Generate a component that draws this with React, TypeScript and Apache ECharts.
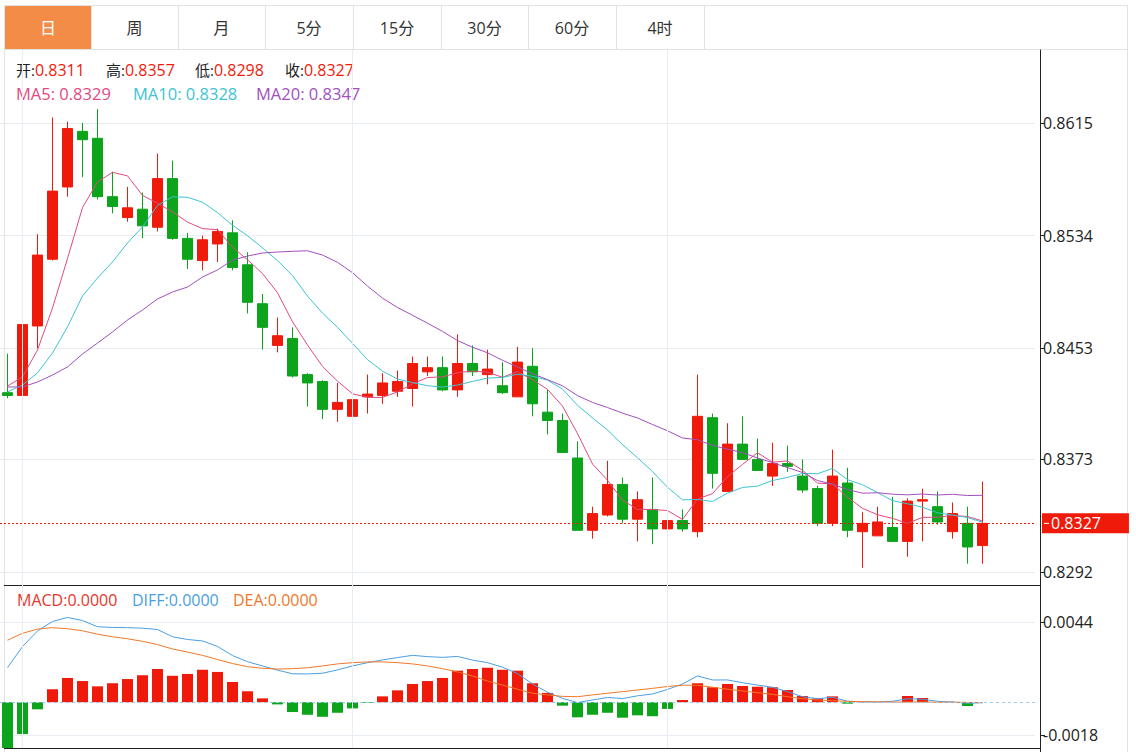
import React, { useEffect, useRef } from 'react';
import * as echarts from 'echarts';

// ---------- data ----------
const categories = Array.from({ length: 69 }, (_, i) => `D${i + 1}`);

const opens = [
  0.8421, 0.8419, 0.8469, 0.8517, 0.8569, 0.8609, 0.8604, 0.8562, 0.8547, 0.8553,
  0.8540, 0.8575, 0.8532, 0.8516, 0.8528, 0.8536, 0.8513, 0.8485, 0.8455, 0.8460,
  0.8434, 0.8429, 0.8409, 0.8404, 0.8418, 0.8419, 0.8422, 0.8424, 0.8436, 0.8439,
  0.8423, 0.8442, 0.8434, 0.8426, 0.8418, 0.8440, 0.8407, 0.8401, 0.8374, 0.8322,
  0.8333, 0.8355, 0.8330, 0.8337, 0.8323, 0.8329, 0.8321, 0.8403, 0.8350, 0.8384,
  0.8373, 0.8361, 0.8370, 0.8361, 0.8352, 0.8327, 0.8356, 0.8321, 0.8318, 0.8324,
  0.8314, 0.8343, 0.8339, 0.8321, 0.8327, 0.8311,
];
const closes = [
  0.8419, 0.8470, 0.8520, 0.8566, 0.8611, 0.8603, 0.8562, 0.8555, 0.8554, 0.8541,
  0.8575, 0.8532, 0.8517, 0.8531, 0.8537, 0.8511, 0.8486, 0.8468, 0.8462, 0.8433,
  0.8428, 0.8409, 0.8414, 0.8416, 0.8420, 0.8428, 0.8429, 0.8442, 0.8439, 0.8423,
  0.8442, 0.8436, 0.8438, 0.8421, 0.8443, 0.8413, 0.8401, 0.8378, 0.8322, 0.8334,
  0.8355, 0.8330, 0.8344, 0.8323, 0.8329, 0.8323, 0.8404, 0.8363, 0.8384, 0.8373,
  0.8365, 0.8370, 0.8368, 0.8351, 0.8327, 0.8361, 0.8322, 0.8327, 0.8328, 0.8314,
  0.8343, 0.8344, 0.8328, 0.8334, 0.8310, 0.8327,
];
const lows = [
  0.8417, 0.8414, 0.8453, 0.8516, 0.8562, 0.8576, 0.8560, 0.8550, 0.8544, 0.8532,
  0.8537, 0.8531, 0.8510, 0.8509, 0.8515, 0.8509, 0.8478, 0.8452, 0.8450, 0.8432,
  0.8411, 0.8402, 0.8400, 0.8404, 0.8406, 0.8413, 0.8418, 0.8411, 0.8433, 0.8422,
  0.8418, 0.8433, 0.8427, 0.8420, 0.8418, 0.8404, 0.8391, 0.8378, 0.8322, 0.8316,
  0.8332, 0.8327, 0.8314, 0.8312, 0.8310, 0.8321, 0.8317, 0.8352, 0.8350, 0.8373,
  0.8365, 0.8354, 0.8364, 0.8349, 0.8325, 0.8325, 0.8317, 0.8295, 0.8318, 0.8314,
  0.8303, 0.8314, 0.8326, 0.8316, 0.8298, 0.8298,
];
const highs = [
  0.8449, 0.8473, 0.8535, 0.8619, 0.8616, 0.8615, 0.8625, 0.8580, 0.8569, 0.8565,
  0.8593, 0.8588, 0.8536, 0.8534, 0.8539, 0.8545, 0.8522, 0.8492, 0.8475, 0.8468,
  0.8435, 0.8430, 0.8428, 0.8432, 0.8434, 0.8435, 0.8437, 0.8447, 0.8447, 0.8447,
  0.8463, 0.8455, 0.8452, 0.8443, 0.8454, 0.8453, 0.8423, 0.8406, 0.8386, 0.8339,
  0.8372, 0.8360, 0.8350, 0.8360, 0.8345, 0.8337, 0.8434, 0.8406, 0.8399, 0.8404,
  0.8388, 0.8385, 0.8383, 0.8373, 0.8354, 0.8380, 0.8367, 0.8335, 0.8339, 0.8346,
  0.8345, 0.8352, 0.8350, 0.8342, 0.8339, 0.8357,
];

const ma5 = [
  0.84258, 0.84323, 0.84517, 0.84819, 0.85175, 0.85542, 0.85726, 0.85795, 0.85770, 0.85629,
  0.85573, 0.85511, 0.85437, 0.85390, 0.85383, 0.85257, 0.85166, 0.85067, 0.84929, 0.84720,
  0.84553, 0.84399, 0.84293, 0.84202, 0.84176, 0.84176, 0.84216, 0.84273, 0.84319, 0.84324,
  0.84353, 0.84366, 0.84357, 0.84321, 0.84362, 0.84303, 0.84234, 0.84114, 0.83916, 0.83697,
  0.83580, 0.83438, 0.83369, 0.83370, 0.83362, 0.83298, 0.83445, 0.83484, 0.83606, 0.83694,
  0.83778, 0.83710, 0.83719, 0.83652, 0.83560, 0.83553, 0.83458, 0.83378, 0.83332, 0.83306,
  0.83270, 0.83313, 0.83314, 0.83327, 0.83319, 0.83287,
];
const ma10 = [
  0.84215, 0.84265, 0.84352, 0.84496, 0.84683, 0.84906, 0.85035, 0.85150, 0.85287, 0.85402,
  0.85557, 0.85619, 0.85616, 0.85580, 0.85506, 0.85415, 0.85339, 0.85252, 0.85160, 0.85052,
  0.84905, 0.84783, 0.84680, 0.84565, 0.84448, 0.84365, 0.84308, 0.84283, 0.84260, 0.84250,
  0.84265, 0.84291, 0.84315, 0.84320, 0.84343, 0.84328, 0.84300, 0.84236, 0.84119, 0.84029,
  0.83942, 0.83836, 0.83742, 0.83643, 0.83529, 0.83439, 0.83442, 0.83427, 0.83488, 0.83528,
  0.83538, 0.83578, 0.83601, 0.83629, 0.83627, 0.83665, 0.83584, 0.83548, 0.83492, 0.83433,
  0.83411, 0.83386, 0.83346, 0.83329, 0.83312, 0.83278,
];
const ma20 = [
  0.84251, 0.84251, 0.84287, 0.84337, 0.84395, 0.84488, 0.84567, 0.84647, 0.84733, 0.84805,
  0.84884, 0.84934, 0.84970, 0.85042, 0.85093, 0.85164, 0.85193, 0.85215, 0.85222, 0.85227,
  0.85231, 0.85200, 0.85148, 0.85073, 0.84977, 0.84890, 0.84823, 0.84767, 0.84710, 0.84651,
  0.84585, 0.84537, 0.84497, 0.84443, 0.84395, 0.84346, 0.84304, 0.84259, 0.84189, 0.84140,
  0.84103, 0.84063, 0.84028, 0.83981, 0.83936, 0.83884, 0.83871, 0.83831, 0.83803, 0.83779,
  0.83740, 0.83707, 0.83671, 0.83636, 0.83578, 0.83552, 0.83513, 0.83487, 0.83490, 0.83480,
  0.83475, 0.83481, 0.83474, 0.83479, 0.83470, 0.83472,
];

const macdHist = [
  -0.0027, -0.00175, -0.00039, 0.00071, 0.00133, 0.00116, 0.00087, 0.00104, 0.00127, 0.00148,
  0.00182, 0.00145, 0.00155, 0.00178, 0.00166, 0.00111, 0.0006, 0.00021, -0.00012, -0.00054,
  -0.00069, -0.0008, -0.00058, -0.00034, -0.00004, 0.00032, 0.00065, 0.001, 0.00116, 0.00133,
  0.00173, 0.00182, 0.00189, 0.00178, 0.00173, 0.00104, 0.00051, -0.00019, -0.00083, -0.00069,
  -0.00058, -0.00085, -0.00072, -0.00077, -0.00037, 0.00012, 0.00104, 0.00082, 0.001, 0.00089,
  0.00085, 0.00082, 0.00067, 0.00034, 0.00021, 0.00032, -0.00008, 0.00001, 0.00001, 0.00001,
  0.00034, 0.00023, 0.00001, 0.00001, -0.00021, 0,
];
const diffLine = [
  0.0019, 0.00305, 0.00391, 0.00443, 0.00465, 0.00448, 0.00414, 0.0041, 0.00409, 0.00406,
  0.00399, 0.00359, 0.00344, 0.00336, 0.00306, 0.00256, 0.00222, 0.00199, 0.00176, 0.00156,
  0.00155, 0.00159, 0.00177, 0.00199, 0.00217, 0.00232, 0.00245, 0.00257, 0.0025, 0.00246,
  0.00251, 0.00231, 0.00217, 0.00192, 0.00157, 0.001, 0.00055, 0.00021, -0.00002, 0.00012,
  0.00026, 0.0002, 0.00035, 0.00045, 0.0007, 0.001, 0.00144, 0.00122, 0.00122, 0.00107,
  0.00094, 0.00082, 0.00058, 0.0003, 0.00019, 0.00027, 0.00005, 0.00001, 0.00001, 0.00005,
  0.00019, 0.00016, 0.00005, 0.00001, -0.00006, -0.00003,
];
const deaLine = [
  0.0034, 0.00378, 0.00401, 0.00409, 0.00403, 0.00392, 0.00373, 0.00359, 0.00348, 0.00334,
  0.00316, 0.00292, 0.00275, 0.00257, 0.00234, 0.00212, 0.00195, 0.00186, 0.00182, 0.00184,
  0.00189, 0.00199, 0.0021, 0.00217, 0.00221, 0.00221, 0.00217, 0.0021, 0.00199, 0.00184,
  0.00166, 0.00144, 0.00116, 0.00094, 0.00071, 0.00049, 0.0004, 0.00032, 0.0003, 0.0004,
  0.00049, 0.00058, 0.00067, 0.00076, 0.00086, 0.00093, 0.00093, 0.00082, 0.00071, 0.00062,
  0.00052, 0.00043, 0.0003, 0.00019, 0.00012, 0.00008, 0.00005, 0.00003, 0.00002, 0.00001,
  0.00001, 0.00001, 0, 0, -0.00001, -0.00002,
];

const priceTicks = [0.8292, 0.8373, 0.8453, 0.8534, 0.8615];
const macdTicks = [-0.0018, 0.0044];
const monthStarts = [1, 23, 44];
const tabs = ['日', '周', '月', '5分', '15分', '30分', '60分', '4时'];

// ---------- style ----------
const FONT = "'Open Sans', 'Noto Sans CJK SC', sans-serif";
const RED = '#f01a0b';
const GREEN = '#0ba41b';
const C_MA5 = '#e04a80';
const C_MA10 = '#3ec3d3';
const C_MA20 = '#a24fbd';
const C_DIFF = '#4a9fe2';
const C_DEA = '#f07828';
const C_MACD = '#e5362a';
const BORDER = '#e2e2e2';
const GRIDLINE = '#e7edf3';
const AXIS_SIZE = 16;

const fmt4 = (v: number) => (Math.round(v * 1e4) / 1e4 + 0).toFixed(4);

export default function App() {
  const ref = useRef<HTMLDivElement>(null);

  useEffect(() => {
    if (!ref.current) return;
    const chart = echarts.init(ref.current, null, { renderer: 'svg' });
    const last = opens.length - 1;
    const candleData = opens.map((o, i) => [o, closes[i], lows[i], highs[i]]);

    const graphics: any[] = [];
    const tabEdges = [5, 91, 178, 265, 353, 441, 528, 616, 704];
    graphics.push({
      type: 'rect',
      shape: { x: 5, y: 5, width: 86, height: 44, r: [3, 0, 0, 0] },
      style: { fill: '#f38c46' },
    });
    const hline = (x1: number, x2: number, y: number, color: string) => ({
      type: 'line', silent: true,
      shape: { x1, y1: y, x2, y2: y },
      style: { stroke: color, lineWidth: 1 },
    });
    const vline = (x: number, y1: number, y2: number, color: string) => ({
      type: 'line', silent: true,
      shape: { x1: x, y1, x2: x, y2 },
      style: { stroke: color, lineWidth: 1 },
    });
    graphics.push(hline(5, 1128, 5.5, BORDER));
    graphics.push(hline(5, 1128, 49.5, BORDER));
    graphics.push(vline(4.5, 5, 752, BORDER));
    graphics.push(vline(1127.5, 5, 752, BORDER));
    tabEdges.slice(1).forEach((x) => graphics.push(vline(x + 0.5, 5, 49, BORDER)));
    tabs.forEach((t, i) => {
      const cx = (tabEdges[i] + tabEdges[i + 1]) / 2;
      graphics.push({
        type: 'text', x: cx, y: 28,
        style: {
          text: t, fill: i === 0 ? '#ffffff' : '#333333', fontSize: 16, fontFamily: FONT,
          align: 'center', verticalAlign: 'middle',
        },
      });
    });
    graphics.push(hline(4, 1040, 585.5, '#222222'));
    graphics.push(hline(4, 1040, 748.5, '#222222'));
    graphics.push(vline(1040.5, 748, 752, '#222222'));

    const legendItem = (
      x: number, y: number, k: string, v: string, kc: string, vc: string, ks: number, vs: number,
    ) => ({
      type: 'text', x, y,
      style: {
        text: `{k|${k}}{v|${v}}`,
        fontSize: vs, fontFamily: FONT, verticalAlign: 'middle',
        rich: {
          k: { fill: kc, color: kc, fontSize: ks, fontFamily: FONT },
          v: { fill: vc, color: vc, fontSize: vs, fontFamily: FONT },
        },
      },
    });
    graphics.push(legendItem(16, 70, '开:', fmt4(opens[last]), '#222', RED, 15, 16));
    graphics.push(legendItem(106, 70, '高:', fmt4(highs[last]), '#222', RED, 15, 16));
    graphics.push(legendItem(195, 70, '低:', fmt4(lows[last]), '#222', RED, 15, 16));
    graphics.push(legendItem(285, 70, '收:', fmt4(closes[last]), '#222', RED, 15, 16));
    graphics.push(legendItem(16, 93, 'MA5: ', fmt4(ma5[last]), C_MA5, C_MA5, 16.5, 16.5));
    graphics.push(legendItem(133, 93, 'MA10: ', fmt4(ma10[last]), C_MA10, C_MA10, 16.5, 16.5));
    graphics.push(legendItem(256, 93, 'MA20: ', fmt4(ma20[last]), C_MA20, C_MA20, 16.5, 16.5));
    graphics.push(legendItem(17, 600, 'MACD:', fmt4(macdHist[last]), C_MACD, C_MACD, 16, 16));
    graphics.push(legendItem(132, 600, 'DIFF:', fmt4(diffLine[last]), C_DIFF, C_DIFF, 16, 16));
    graphics.push(legendItem(233, 600, 'DEA:', fmt4(deaLine[last]), C_DEA, C_DEA, 16, 16));

    const hiddenX = (gridIndex: number) => ({
      type: 'category', gridIndex, data: categories, boundaryGap: true,
      axisLine: { show: false }, axisTick: { show: false }, axisLabel: { show: false },
      splitLine: { show: false },
    });

    const yAxisCommon = (gridIndex: number, min: number, max: number, ticks: number[]) => ({
      type: 'value', gridIndex, position: 'right', offset: 5, min, max,
      axisLine: { show: true, onZero: false, lineStyle: { color: '#222', width: 1 } },
      axisTick: { show: true, length: 5, customValues: ticks, lineStyle: { color: '#222' } },
      axisLabel: {
        show: true, customValues: ticks, margin: 3, color: '#222', fontSize: AXIS_SIZE, fontFamily: FONT,
        formatter: (v: number) => v.toFixed(4),
      },
      splitLine: { show: true, lineStyle: { color: GRIDLINE, width: 1 } },
    });

    const vertLines = (xAxisIndex: number, yAxisIndex: number) => ({
      type: 'line', xAxisIndex, yAxisIndex, data: [], z: 0, silent: true,
      markLine: {
        silent: true, symbol: ['none', 'none'], animation: false,
        label: { show: false },
        lineStyle: { color: GRIDLINE, type: 'solid', width: 1 },
        emphasis: { disabled: true },
        data: monthStarts.map((i) => ({ xAxis: categories[i] })),
      },
    });

    const maLine = (data: number[], color: string) => ({
      type: 'line', xAxisIndex: 0, yAxisIndex: 0, data, symbol: 'none', showSymbol: false,
      lineStyle: { color, width: 1 }, itemStyle: { color }, silent: true,
    });

    const option: any = {
      animation: false,
      backgroundColor: '#ffffff',
      grid: [
        { left: 0, top: 50, width: 1035, height: 535 },
        { left: 0, top: 585, width: 1035, height: 163 },
      ],
      xAxis: [hiddenX(0), hiddenX(1)],
      yAxis: [
        yAxisCommon(0, 0.828265, 0.866752, priceTicks),
        yAxisCommon(1, -0.002513, 0.00643, macdTicks),
      ],
      graphic: graphics,
      series: [
        vertLines(0, 0),
        {
          type: 'candlestick', xAxisIndex: 0, yAxisIndex: 0, data: candleData,
          barWidth: 11, silent: true,
          itemStyle: { color: RED, color0: GREEN, borderColor: RED, borderColor0: GREEN, borderWidth: 1 },
        },
        maLine(ma5, C_MA5),
        maLine(ma10, C_MA10),
        maLine(ma20, C_MA20),
        {
          // last price line + tag
          type: 'line', xAxisIndex: 0, yAxisIndex: 0, data: [], silent: true, z: 5,
          color: RED, itemStyle: { color: RED }, lineStyle: { color: RED },
          markLine: {
            silent: true, symbol: ['none', 'none'], animation: false, precision: 6,
            emphasis: { disabled: true },
            lineStyle: { color: RED, type: [2, 2], width: 1, opacity: 1 },
            label: {
              show: true, position: 'end', distance: 7,
              formatter: `{t| }{v|${fmt4(closes[last])}}`,
              backgroundColor: RED, padding: [2, 28, 2, 2],
              rich: {
                t: { width: 5, height: 1, backgroundColor: '#ffffff' },
                v: { color: '#ffffff', fontSize: AXIS_SIZE, fontFamily: FONT, padding: [0, 0, 0, 2] },
              },
            },
            data: [{ yAxis: closes[last], lineStyle: { color: RED, type: [2, 2], width: 1 } }],
          },
        },
        vertLines(1, 1),
        {
          type: 'bar', xAxisIndex: 1, yAxisIndex: 1, barWidth: 11, silent: true,
          data: macdHist.map((v) => ({ value: v, itemStyle: { color: v >= 0 ? RED : GREEN } })),
          markLine: {
            silent: true, symbol: ['none', 'none'], animation: false, precision: 6,
            emphasis: { disabled: true },
            label: { show: false },
            lineStyle: { color: '#9fcbef', type: [3, 3], width: 1 },
            data: [{ yAxis: 0 }],
          },
        },
        {
          type: 'line', xAxisIndex: 1, yAxisIndex: 1, data: diffLine, symbol: 'none', showSymbol: false,
          lineStyle: { color: C_DIFF, width: 1 }, silent: true,
        },
        {
          type: 'line', xAxisIndex: 1, yAxisIndex: 1, data: deaLine, symbol: 'none', showSymbol: false,
          lineStyle: { color: C_DEA, width: 1 }, silent: true,
        },
      ],
    };

    chart.setOption(option);
    return () => chart.dispose();
  }, []);

  return (
    <div
      ref={ref}
      style={{ position: 'absolute', left: 0, top: 0, width: 1136, height: 752, background: '#fff' }}
    />
  );
}
